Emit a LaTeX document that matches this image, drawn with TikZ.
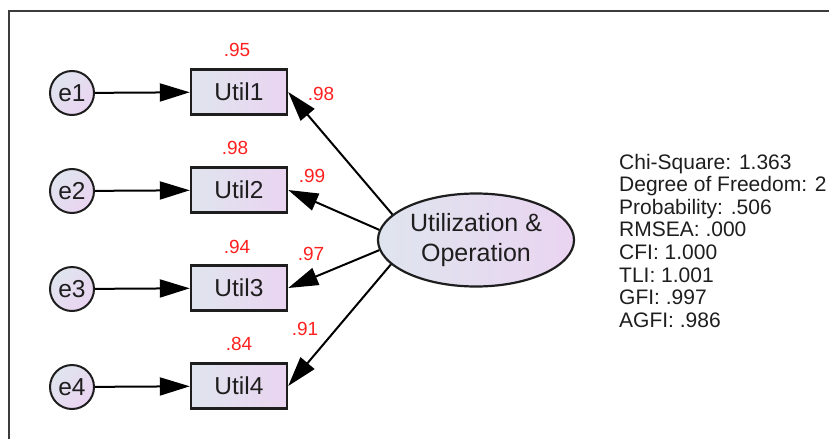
\documentclass[tikz,border=0pt]{standalone}
\usepackage{fontspec}
\setmainfont{Liberation Sans}
\usetikzlibrary{arrows.meta,shapes.geometric}
\definecolor{fillL}{RGB}{223,229,238}
\definecolor{fillR}{RGB}{234,212,241}
\definecolor{valred}{RGB}{255,32,32}
\definecolor{ink}{RGB}{30,30,30}
\definecolor{framec}{RGB}{60,60,60}
\tikzset{
  obsbox/.style={draw=ink, line width=2.4pt, minimum width=96pt, minimum height=45pt, inner sep=0pt,
    left color=fillL, right color=fillR, text=ink, font=\fontsize{24.5}{28}\selectfont},
  errc/.style={circle, draw=ink, line width=2pt, minimum size=44pt, inner sep=0pt,
    shading=axis, left color=fillL, right color=fillR, shading angle=45, text=ink, font=\fontsize{24.5}{28}\selectfont},
  latent/.style={ellipse, draw=ink, line width=2.2pt, minimum width=196pt, minimum height=93pt, inner sep=0pt,
    left color=fillL, right color=fillR, text=ink, align=center, font=\fontsize{25}{29.5}\selectfont},
  val/.style={text=valred, inner sep=0pt, font=\fontsize{19}{21}\selectfont},
  stat/.style={text=ink, inner sep=0pt, anchor=base west, font=\fontsize{21}{22.6}\selectfont},
  arr/.style={-{Triangle[length=30pt,width=18pt]}, line width=2pt, draw=black},
}
\begin{document}
\begin{tikzpicture}[x=1pt,y=-1pt]
\useasboundingbox (0,0) rectangle (829,439);
\draw[framec, line width=1.5pt] (9,439) -- (9,11) -- (829,11);

\node[obsbox] (u1) at (239,92) {Util1};
\node[obsbox] (u2) at (239,190) {Util2};
\node[obsbox] (u3) at (239,288) {Util3};
\node[obsbox] (u4) at (239,386) {Util4};

\node[errc] (e1) at (72,93) {e1};
\node[errc] (e2) at (72,191) {e2};
\node[errc] (e3) at (72,289) {e3};
\node[errc] (e4) at (72,387) {e4};

\node[latent] (f) at (476,240) {Utilization \&\\Operation};

\draw[arr] (e1) -- (u1);
\draw[arr] (e2) -- (u2);
\draw[arr] (e3) -- (u3);
\draw[arr] (e4) -- (u4);

\draw[arr] (f.163) -- (u1.east);
\draw[arr] (f.174) -- (u2.east);
\draw[arr] (f.186) -- (u3.east);
\draw[arr] (f.196.5) -- (u4.east);

\node[val] (r1) at (237,50) {.95};
\node[val] (r2) at (235,148) {.98};
\node[val] (r3) at (237,247) {.94};
\node[val] (r4) at (239,344) {.84};

\node[val] (l1) at (321,94) {.98};
\node[val] (l2) at (312,176) {.99};
\node[val] (l3) at (311,254) {.97};
\node[val] (l4) at (305,329) {.91};

\node[stat] (s1) at (619,169) {Chi-Square: 1.363};
\node[stat] (s2) at (619,191.6) {Degree of Freedom: 2};
\node[stat] (s3) at (619,214.2) {Probability: .506};
\node[stat] (s4) at (619,236.8) {RMSEA: .000};
\node[stat] (s5) at (619,259.4) {CFI: 1.000};
\node[stat] (s6) at (619,282) {TLI: 1.001};
\node[stat] (s7) at (619,304.6) {GFI: .997};
\node[stat] (s8) at (619,327.2) {AGFI: .986};
\end{tikzpicture}
\end{document}
